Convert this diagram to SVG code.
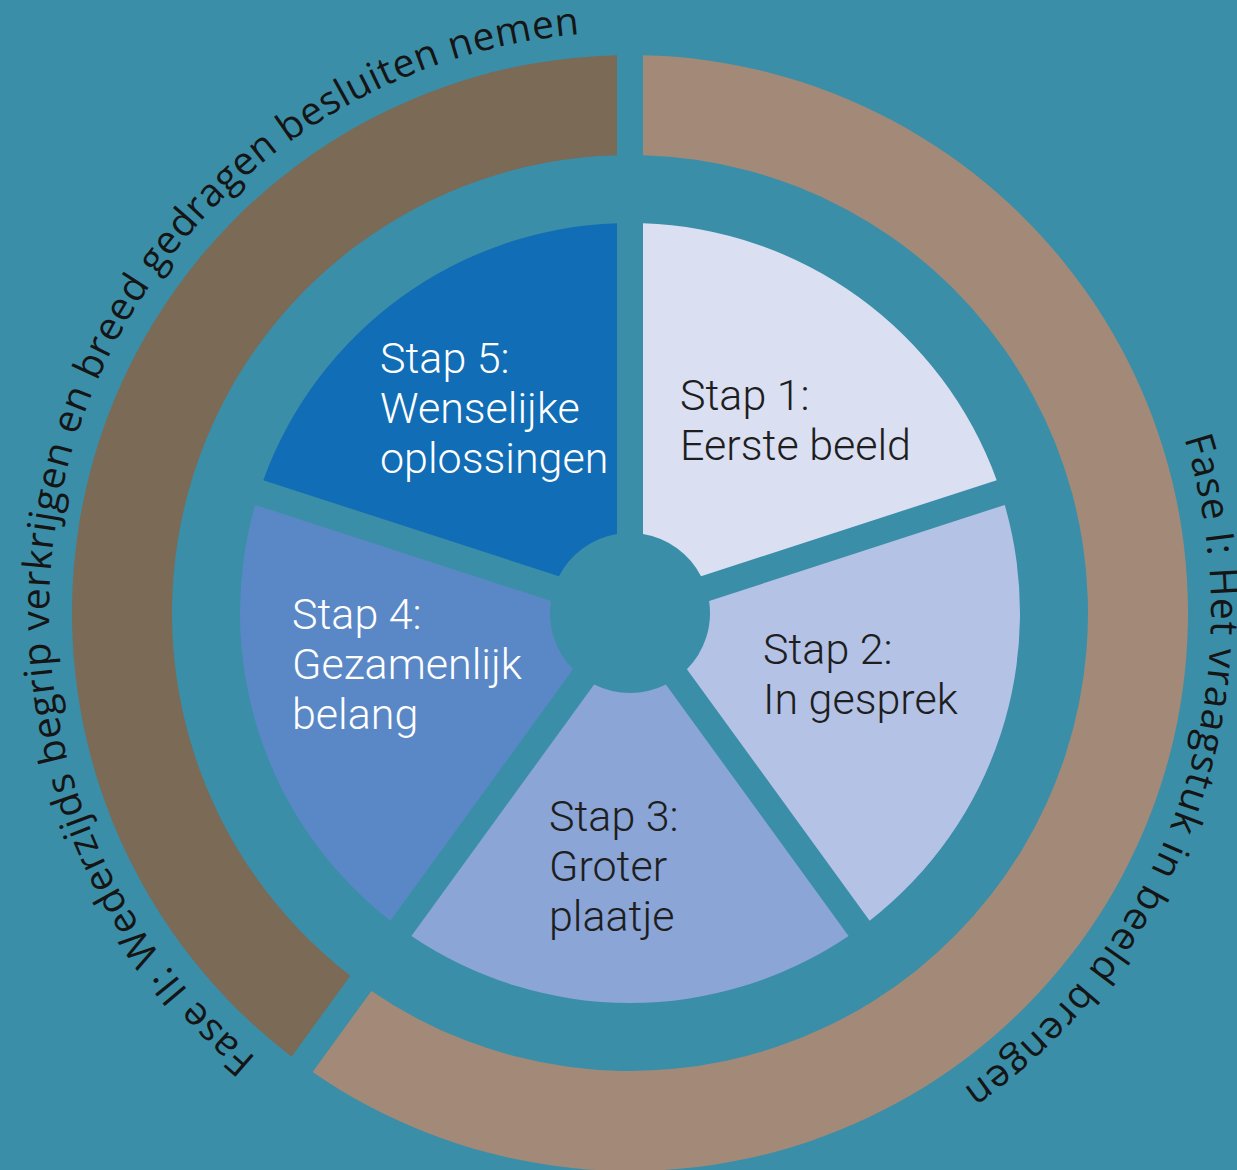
<svg xmlns="http://www.w3.org/2000/svg" width="1237" height="1170" viewBox="0 0 1237 1170">
  <style>
    .bg { fill: #3B8EA8; }
    .step { font-family: Roboto, "Liberation Sans", sans-serif; font-size: 43px; font-weight: 300; }
    .dark { fill: #1E1E1E; }
    .light { fill: #FFFFFF; }
    .phase { font-family: "Open Sans", "Noto Sans", sans-serif; font-size: 39px; fill: #151515; }
  </style>
  <defs>
    <!-- baseline arcs for the phase captions, r = 581 around (630, 613), clockwise -->
    <path id="arc-fase-2" d="M 256.54 1058.07 A 581 581 0 0 1 579.36 34.21"/>
    <path id="arc-fase-1" d="M 1184.11 438.29 A 581 581 0 0 1 963.25 1088.93"/>
  </defs>

  <rect class="bg" x="0" y="0" width="1237" height="1170"/>

  <!-- outer phase ring -->
  <g id="fase-1">
    <path d="M 643 55.15 A 558 558 0 1 1 312.62 1071.95 L 371.42 991.02 A 458 458 0 1 0 643 155.18 Z" fill="#A38A78"/>
    <text class="phase" lengthAdjust="spacing"><textPath href="#arc-fase-1" textLength="735">Fase I: Het vraagstuk in beeld brengen</textPath></text>
  </g>
  <g id="fase-2">
    <path d="M 291.58 1056.67 A 558 558 0 0 1 617 55.15 L 617 155.18 A 458 458 0 0 0 350.38 975.74 Z" fill="#7A6A56"/>
    <text class="phase" lengthAdjust="spacing"><textPath href="#arc-fase-2" textLength="1369">Fase II: Wederzijds begrip verkrijgen en breed gedragen besluiten nemen</textPath></text>
  </g>

  <!-- five steps of the inner wheel -->
  <g id="stap-1">
    <path d="M 643 223.22 A 390 390 0 0 1 996.69 480.18 L 701.06 576.24 A 80 80 0 0 0 643 534.06 Z" fill="#DADFF2"/>
    <text class="step dark" x="680" y="410">Stap 1:</text>
    <text class="step dark" x="680" y="460">Eerste beeld</text>
  </g>
  <g id="stap-2">
    <path d="M 1004.73 504.91 A 390 390 0 0 1 869.63 920.70 L 686.92 669.22 A 80 80 0 0 0 709.10 600.97 Z" fill="#B3C2E5"/>
    <text class="step dark" x="763" y="664">Stap 2:</text>
    <text class="step dark" x="763" y="714">In gesprek</text>
  </g>
  <g id="stap-3">
    <path d="M 848.59 935.98 A 390 390 0 0 1 411.41 935.98 L 594.12 684.50 A 80 80 0 0 0 665.88 684.50 Z" fill="#8AA5D6"/>
    <text class="step dark" x="549" y="831">Stap 3:</text>
    <text class="step dark" x="549" y="881">Groter</text>
    <text class="step dark" x="549" y="931">plaatje</text>
  </g>
  <g id="stap-4">
    <path d="M 390.37 920.70 A 390 390 0 0 1 255.27 504.91 L 550.90 600.97 A 80 80 0 0 0 573.08 669.22 Z" fill="#5A88C6"/>
    <text class="step light" x="292" y="629">Stap 4:</text>
    <text class="step light" x="292" y="679">Gezamenlijk</text>
    <text class="step light" x="292" y="729">belang</text>
  </g>
  <g id="stap-5">
    <path d="M 263.31 480.18 A 390 390 0 0 1 617 223.22 L 617 534.06 A 80 80 0 0 0 558.94 576.24 Z" fill="#116DB5"/>
    <text class="step light" x="380" y="373">Stap 5:</text>
    <text class="step light" x="380" y="423">Wenselijke</text>
    <text class="step light" x="380" y="473">oplossingen</text>
  </g>
</svg>
